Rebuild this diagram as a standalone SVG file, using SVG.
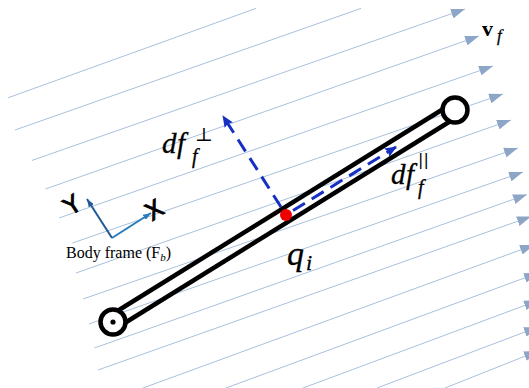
<svg xmlns="http://www.w3.org/2000/svg" width="529" height="388" viewBox="0 0 529 388">
<style>
.flow{stroke:#a9c0de;stroke-width:1;fill:none}
.rod{stroke:#000;stroke-width:4.5;fill:none}
.blue{stroke:#1630c4;stroke-width:3;fill:none;stroke-dasharray:14 8}
.m{font-family:"Liberation Serif",serif;font-style:italic;fill:#000;stroke:#000;stroke-width:0.3}
.lbl{font-family:"DejaVu Sans","Liberation Sans",sans-serif;fill:#000;stroke:#000;stroke-width:0.9}
</style>
<defs>
<marker id="fa" viewBox="0 0 14 10" refX="14" refY="5" markerWidth="14" markerHeight="10" orient="auto" markerUnits="userSpaceOnUse"><path d="M0,0 L14,5 L0,10 z" fill="#8da6c8"/></marker>
<marker id="ba" viewBox="0 0 12 10" refX="11" refY="5" markerWidth="12" markerHeight="10" orient="auto" markerUnits="userSpaceOnUse"><path d="M0,0 L12,5 L0,10 L2,5 z" fill="#1630c4"/></marker>
<marker id="ya" viewBox="0 0 8 6" refX="8" refY="3" markerWidth="8" markerHeight="6" orient="auto" markerUnits="userSpaceOnUse"><path d="M0,0 L8,3 L0,6 z" fill="#1f5a96"/></marker>
<marker id="xa" viewBox="0 0 8 6" refX="8" refY="3" markerWidth="8" markerHeight="6" orient="auto" markerUnits="userSpaceOnUse"><path d="M0,0 L8,3 L0,6 z" fill="#2a7cbc"/></marker>
</defs>
<g id="connectors">
<line class="flow" x1="8" y1="97.8" x2="256" y2="8.4"/>
<line class="flow" x1="15" y1="130" x2="361" y2="8.4"/>
<line class="flow" x1="32" y1="160.4" x2="465" y2="9" marker-end="url(#fa)"/>
<line class="flow" x1="45.5" y1="189" x2="479" y2="36" marker-end="url(#fa)"/>
<line class="flow" x1="59" y1="218" x2="493" y2="66" marker-end="url(#fa)"/>
<line class="flow" x1="72.5" y1="243" x2="503" y2="94" marker-end="url(#fa)"/>
<line class="flow" x1="76" y1="273" x2="511" y2="120" marker-end="url(#fa)"/>
<line class="flow" x1="83" y1="299" x2="518" y2="148" marker-end="url(#fa)"/>
<line class="flow" x1="89" y1="324" x2="523" y2="172" marker-end="url(#fa)"/>
<line class="flow" x1="94.5" y1="348" x2="527" y2="194.5" marker-end="url(#fa)"/>
<line class="flow" x1="98" y1="370" x2="531" y2="216.5" marker-end="url(#fa)"/>
<line class="flow" x1="143" y1="388" x2="534" y2="245" marker-end="url(#fa)"/>
<line class="flow" x1="226" y1="388" x2="538" y2="273" marker-end="url(#fa)"/>
<line class="flow" x1="303" y1="388" x2="538" y2="300.5" marker-end="url(#fa)"/>
<line class="flow" x1="377" y1="388" x2="538" y2="327" marker-end="url(#fa)"/>
<line class="flow" x1="445" y1="388" x2="538" y2="351" marker-end="url(#fa)"/>
<line class="blue" x1="281" y1="207" x2="223" y2="116" marker-end="url(#ba)"/>
<line class="blue" x1="293" y1="210.5" x2="396" y2="147" marker-end="url(#ba)"/>
</g>
<g id="rod">
<line class="rod" x1="109.3" y1="316" x2="451.3" y2="104"/>
<line class="rod" x1="116.7" y1="328" x2="458.7" y2="116"/>
</g>
<g id="joint-bottom">
<circle cx="113" cy="322" r="12.5" fill="#fff" stroke="#000" stroke-width="4.5"/>
<circle cx="113" cy="322" r="2.6" fill="#000"/>
</g>
<g id="joint-top">
<circle cx="455" cy="110" r="12.5" fill="#fff" stroke="#000" stroke-width="4.5"/>
</g>
<g id="point-qi">
<circle cx="286" cy="215" r="6" fill="#ee0000"/>
<text class="m" x="287" y="265" font-size="34">q</text>
<text class="m" x="306" y="270" font-size="22">i</text>
</g>
<g id="label-perp">
<text class="m" x="162" y="153" font-size="29">d</text>
<text class="m" x="177" y="153" font-size="29">f</text>
<text class="m" x="192" y="163" font-size="20">f</text>
<text x="195" y="141" font-size="19" font-family="DejaVu Serif,serif">⊥</text>
</g>
<g id="label-par">
<text class="m" x="391" y="184" font-size="29">d</text>
<text class="m" x="406" y="184" font-size="29">f</text>
<text class="m" x="418" y="194" font-size="20">f</text>
<text x="418" y="165" font-size="16" font-family="DejaVu Sans,sans-serif">||</text>
</g>
<g id="label-vf">
<text x="482" y="36" font-size="22" font-weight="bold" font-family="Liberation Serif,serif">v</text>
<text class="m" x="497" y="41" font-size="17">f</text>
</g>
<g id="body-frame">
<line x1="112" y1="238" x2="87" y2="199" stroke="#1f5a96" stroke-width="2" marker-end="url(#ya)"/>
<line x1="112" y1="238" x2="151" y2="213" stroke="#2a7cbc" stroke-width="2" marker-end="url(#xa)"/>
<text class="lbl" font-size="24" transform="translate(77,212) rotate(-33)" text-anchor="middle">Y</text>
<text class="lbl" font-size="24" transform="translate(159,217) rotate(-33)" text-anchor="middle">X</text>
<text x="66" y="258" font-size="16" font-family="Liberation Serif,serif">Body frame (F<tspan font-size="11" font-style="italic" dy="3">b</tspan><tspan dy="-3">)</tspan></text>
</g>
</svg>
